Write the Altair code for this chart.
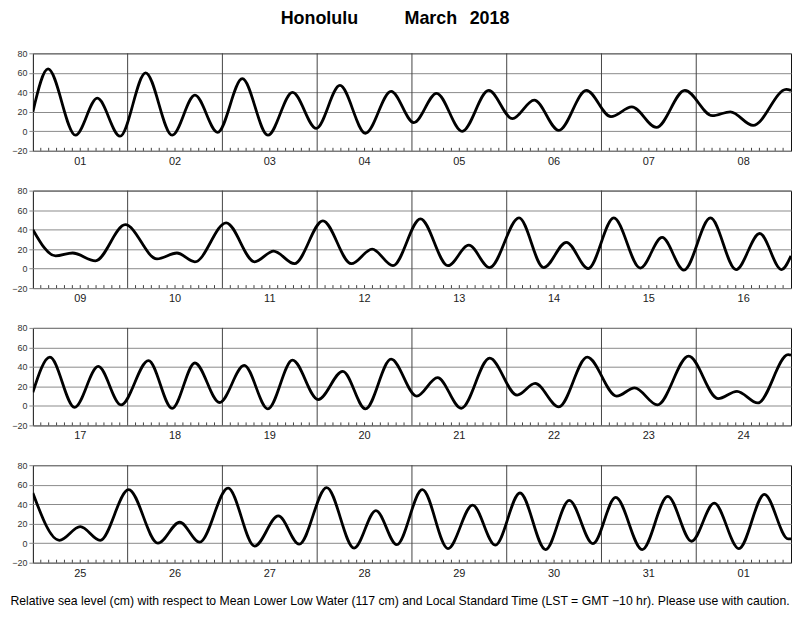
import altair as alt
import pandas as pd

# ---------------- data ----------------
title_words = ["Honolulu", "March", "2018"]
footer_text = ("Relative sea level (cm) with respect to Mean Lower Low Water (117 cm) "
               "and Local Standard Time (LST = GMT \u221210 hr). Please use with caution.")

# time in days from the start of each 8-day panel, heights in cm (turning points)
p1_t = [0, 0.16, 0.45, 0.68, 0.92, 1.19, 1.47, 1.71, 1.95, 2.21, 2.48, 2.74, 2.99, 3.24, 3.51, 3.78,
        4.02, 4.26, 4.53, 4.81, 5.06, 5.29, 5.55, 5.84, 6.10, 6.32, 6.58, 6.88, 7.17, 7.36, 7.60, 7.95, 8.0]
p1_h = [20, 64, -4, 34, -5, 60, -4, 37, -1, 54, -4, 40, 3, 47, -2, 41,
        9, 39, 0, 42, 13, 32, 1, 42, 15, 25, 4, 42, 16, 20, 6, 43, 42]
p1_days = ["01", "02", "03", "04", "05", "06", "07", "08"]

p2_t = [0, 0.24, 0.42, 0.66, 0.975, 1.31, 1.52, 1.71, 2.04, 2.34, 2.54, 2.76, 3.06, 3.36, 3.58, 3.80,
        4.09, 4.38, 4.60, 4.82, 5.13, 5.39, 5.63, 5.86, 6.13, 6.41, 6.64, 6.87, 7.15, 7.42, 7.67, 7.90, 8.0]
p2_h = [40, 13, 16, 8, 45, 10, 16, 7, 47, 7, 18, 5, 49, 5, 20, 3,
        51, 3, 24, 1, 52, 1, 27, 0, 52, 0.5, 32, -1.5, 52, -1, 36, -1, 13]
p2_days = ["09", "10", "11", "12", "13", "14", "15", "16"]

p3_t = [0, 0.18, 0.44, 0.69, 0.93, 1.22, 1.47, 1.71, 1.97, 2.23, 2.48, 2.74, 3.01, 3.27, 3.51, 3.78,
        4.05, 4.27, 4.52, 4.82, 5.11, 5.30, 5.55, 5.85, 6.16, 6.35, 6.59, 6.92, 7.23, 7.43, 7.65, 7.97, 8.0]
p3_h = [14, 50, -1.5, 40.5, 1, 46.5, -2.5, 44, 3.5, 41.5, -3, 47, 6.5, 35.5, -3, 48,
        10, 29, -2.5, 49, 11, 23, -1, 50, 10, 18.5, 1, 51, 7.5, 15, 3, 52.5, 52]
p3_days = ["17", "18", "19", "20", "21", "22", "23", "24"]

p4_t = [0, 0.28, 0.50, 0.71, 1.01, 1.32, 1.55, 1.76, 2.06, 2.34, 2.59, 2.81, 3.10, 3.39, 3.62, 3.84,
        4.11, 4.38, 4.64, 4.88, 5.14, 5.41, 5.66, 5.91, 6.15, 6.43, 6.70, 6.95, 7.19, 7.45, 7.72, 7.97, 8.0]
p4_h = [51.5, 3, 17, 3, 55, 0, 21.5, 1, 56.5, -3, 28, -1, 57, -5, 33.5, -1.5,
        55, -5.5, 39, -2, 51.5, -6.5, 44, -0.5, 47, -6.5, 48, 2, 41, -5.5, 50, 4.5, 4.5]
p4_days = ["25", "26", "27", "28", "29", "30", "31", "01"]

y_ticks = [-20, 0, 20, 40, 60, 80]

# ---------------- layout ----------------
W, H = 762, 98
FONT = "Liberation Sans"
xs = alt.Scale(domain=[0, 8], nice=False, zero=False)
ys = alt.Scale(domain=[-20, 80], nice=False, zero=False)


def panel(t, h, days, first=False, last=False):
    curve_df = pd.DataFrame({"t": t, "h": h})
    n = len(days)
    label_df = pd.DataFrame({"t": [i + 0.5 for i in range(n)], "day": days})
    dayline_df = pd.DataFrame({"t": list(range(1, n))})
    tick_df = pd.DataFrame({"t": [i / 12 for i in range(1, 12 * n) if i % 12]})

    yaxis = alt.Axis(values=y_ticks, grid=True, gridColor="#8a8a8a", gridWidth=1,
                     domain=False, ticks=True, tickColor="#8a8a8a", tickSize=4,
                     labelFontSize=9, labelFont=FONT, labelColor="#333333", labelPadding=2,
                     title=None, minExtent=24, maxExtent=24)

    grid = alt.Chart(curve_df).mark_line(opacity=0).encode(
        x=alt.X("t:Q", scale=xs, axis=None),
        y=alt.Y("h:Q", scale=ys, axis=yaxis),
    )
    daylines = alt.Chart(dayline_df).mark_rule(color="#444444", strokeWidth=1).encode(
        x=alt.X("t:Q", scale=xs, axis=None)
    )
    ticks = alt.Chart(tick_df).mark_rule(color="#444444", strokeWidth=1).encode(
        x=alt.X("t:Q", scale=xs, axis=None),
        y=alt.value(H),
        y2=alt.value(H - 3),
    )
    curve = alt.Chart(curve_df).mark_line(
        interpolate="monotone", color="black", strokeWidth=2.8, clip=True
    ).encode(
        x=alt.X("t:Q", scale=xs, axis=None),
        y=alt.Y("h:Q", scale=ys, axis=yaxis),
    )
    labels = alt.Chart(label_df).mark_text(
        font=FONT, fontSize=11, color="#222222", baseline="alphabetic", align="center"
    ).encode(
        x=alt.X("t:Q", scale=xs, axis=None),
        y=alt.value(H + 14),
        text="day:N",
    )
    layers = [grid, daylines, ticks, curve, labels]
    if first:
        tdf = pd.DataFrame({"w": title_words, "cx": [288, 400, 459]})
        title = alt.Chart(tdf).mark_text(
            font=FONT, fontSize=18, fontWeight="bold",
            color="black", baseline="alphabetic", align="center"
        ).encode(
            x=alt.X("cx:Q", scale=None, axis=None),
            y=alt.value(-29),
            text="w:N",
        )
        layers.append(title)
    if last:
        fdf = pd.DataFrame({"txt": [footer_text]})
        foot = alt.Chart(fdf).mark_text(
            font=FONT, fontSize=12.3, color="black", baseline="alphabetic", align="center"
        ).encode(
            x=alt.value(369),
            y=alt.value(H + 43),
            text="txt:N",
        )
        layers.append(foot)
    return alt.layer(*layers).properties(width=W, height=H)


chart = alt.vconcat(
    panel(p1_t, p1_h, p1_days, first=True),
    panel(p2_t, p2_h, p2_days),
    panel(p3_t, p3_h, p3_days),
    panel(p4_t, p4_h, p4_days, last=True),
    spacing=40,
    bounds="flush",
).properties(
    padding={"left": 0, "top": 0, "right": 0, "bottom": 0}
).configure_view(
    stroke="#111111", strokeWidth=1
).resolve_scale(x="independent")

chart.save("out.html", embed_options={"renderer": "svg", "actions": False})
